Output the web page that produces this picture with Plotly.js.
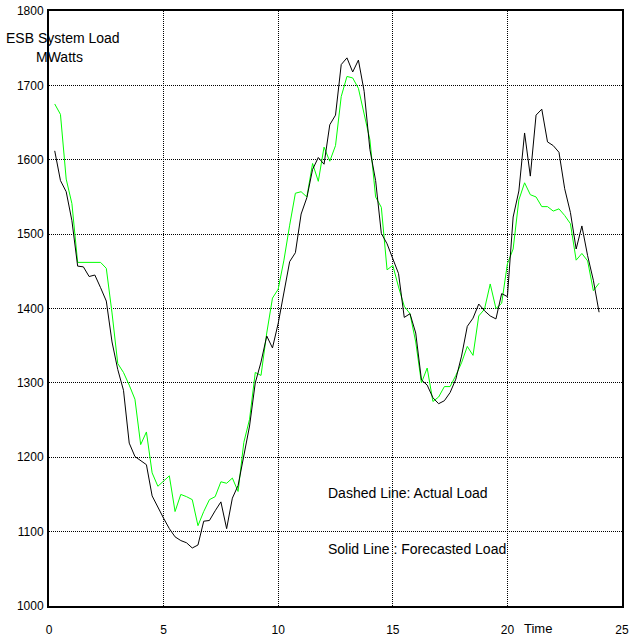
<!DOCTYPE html>
<html>
<head>
<meta charset="utf-8">
<script src="https://cdn.plot.ly/plotly-3.0.1.min.js"></script>
<style>
html,body{margin:0;padding:0;background:#fff;}
#chart{width:631px;height:637px;}
</style>
</head>
<body>
<div id="chart"></div>
<script>
// Time in hours, quarter-hourly from 0.25 to 24
const timeHours = [];
for (let i = 1; i <= 96; i++) timeHours.push(i * 0.25);

// Actual load (MW) - black line
const actualLoad = [
1612,1572,1557,1518,1457,1456,1443,1445,1428,1410,1355,1318,
1290,1219,1201,1196,1190,1148,1132,1118,1104,1093,1088,1085,
1078,1082,1114,1115,1128,1140,1104,1145,1162,1202,1242,1300,
1328,1363,1347,1380,1423,1463,1475,1527,1549,1587,1603,1594,
1647,1660,1728,1737,1718,1734,1692,1614,1572,1501,1487,1467,
1447,1388,1393,1367,1304,1297,1280,1272,1276,1287,1305,1336,
1376,1387,1406,1397,1390,1386,1420,1416,1523,1558,1636,1578,
1660,1668,1624,1619,1610,1561,1529,1480,1511,1471,1438,1395
];

// Forecasted load (MW) - green line
const forecastLoad = [
1675,1661,1574,1541,1462,1462,1462,1462,1462,1454,1394,1326,
1314,1297,1278,1217,1234,1179,1161,1168,1175,1127,1150,1147,
1143,1108,1127,1143,1147,1167,1165,1172,1154,1220,1251,1314,
1310,1367,1414,1426,1465,1512,1555,1557,1550,1595,1571,1617,
1598,1619,1685,1712,1710,1696,1663,1627,1550,1536,1452,1458,
1429,1403,1393,1355,1300,1320,1275,1281,1295,1295,1310,1327,
1349,1337,1390,1399,1433,1400,1407,1460,1480,1546,1569,1553,
1550,1537,1537,1531,1534,1525,1514,1465,1474,1464,1424,1434
];

const xTicks = [0,5,10,15,20,25];
const yTicks = [1000,1100,1200,1300,1400,1500,1600,1700,1800];

const fam = 'Liberation Sans, Arial, sans-serif';
const tickFont = {family: fam, size: 12, color: '#000'};
const textFont = {family: fam, size: 14, color: '#000'};

const traces = [
  {x: timeHours, y: forecastLoad, mode: 'lines', line: {color: '#00ff00', width: 1}, hoverinfo: 'skip'},
  {x: timeHours, y: actualLoad, mode: 'lines', line: {color: '#000000', width: 1}, hoverinfo: 'skip'}
];

const layout = {
  width: 631, height: 637,
  margin: {l: 49, r: 9, t: 11, b: 31},
  paper_bgcolor: '#fff', plot_bgcolor: '#fff',
  showlegend: false,
  font: tickFont,
  xaxis: {
    range: [0, 25], tickvals: xTicks, ticktext: xTicks.map(String),
    showgrid: true, gridcolor: '#000', griddash: '1px,1px', gridwidth: 1,
    zeroline: false, showline: true, linecolor: '#000', linewidth: 2, mirror: true,
    ticks: '', ticklabelstandoff: 12, tickfont: tickFont
  },
  yaxis: {
    range: [1000, 1800], tickvals: yTicks, ticktext: yTicks.map(String),
    showgrid: true, gridcolor: '#000', griddash: '1px,1px', gridwidth: 1,
    zeroline: false, showline: true, linecolor: '#000', linewidth: 2, mirror: true,
    ticks: '', ticklabelstandoff: 1, tickfont: tickFont
  },
  annotations: [
    {xref: 'paper', yref: 'paper', x: 0.0244, y: 0.9546, text: 'ESB System Load', showarrow: false, font: textFont, xanchor: 'center', yanchor: 'middle'},
    {xref: 'paper', yref: 'paper', x: 0.0175, y: 0.9227, text: 'MWatts', showarrow: false, font: textFont, xanchor: 'center', yanchor: 'middle'},
    {xref: 'x', yref: 'y', x: 12.07, y: 1152, text: 'Dashed Line: Actual Load', showarrow: false, font: textFont, xanchor: 'left', yanchor: 'middle'},
    {xref: 'x', yref: 'y', x: 12.07, y: 1077, text: 'Solid Line : Forecasted Load', showarrow: false, font: textFont, xanchor: 'left', yanchor: 'middle'},
    {xref: 'paper', yref: 'paper', x: 0.853, y: -0.038, text: 'Time', showarrow: false, font: {family: fam, size: 13, color: '#000'}, xanchor: 'center', yanchor: 'middle'}
  ]
};

Plotly.newPlot('chart', traces, layout, {staticPlot: true, displayModeBar: false});
</script>
</body>
</html>
